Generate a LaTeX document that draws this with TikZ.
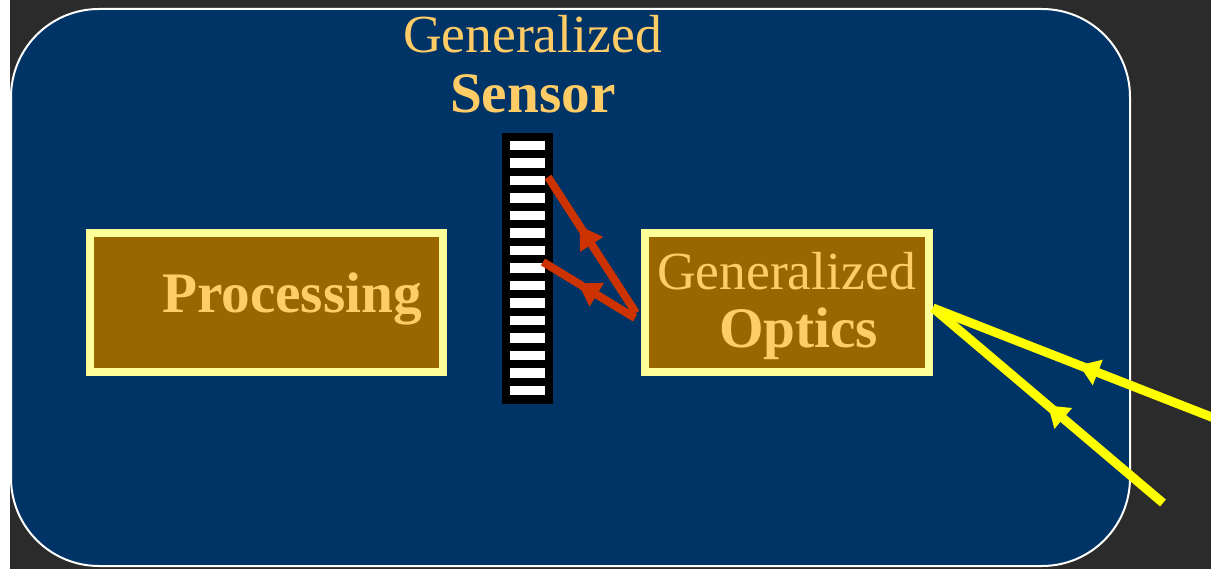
\documentclass[tikz,border=0pt]{standalone}
\usepackage{fontspec}
\setmainfont{Liberation Serif}
\usetikzlibrary{arrows.meta,decorations.markings}
\definecolor{bgdark}{HTML}{2B2B2B}
\definecolor{panel}{HTML}{003366}
\definecolor{boxfill}{HTML}{996600}
\definecolor{boxline}{HTML}{FFFF99}
\definecolor{txt}{HTML}{FFCC66}
\definecolor{ray}{HTML}{CC3300}
\definecolor{lightray}{HTML}{FFFF00}
\begin{document}
\begin{tikzpicture}[x=1pt,y=-1pt,
  blockbox/.style={draw=boxline,line width=8pt,fill=boxfill,minimum width=353pt,minimum height=139pt,inner sep=0pt,outer sep=0pt,anchor=north west},
  lbl/.style={text=txt,inner sep=0pt,outer sep=0pt,anchor=base west,font=\fontsize{53.6}{60}\selectfont},
  blbl/.style={text=txt,inner sep=0pt,outer sep=0pt,anchor=base west,font=\fontsize{57.3}{64}\selectfont\bfseries},
  redray/.style={draw=ray,line width=8pt,postaction={decorate},
    decoration={markings,mark=at position #1 with {\arrow[ray]{Triangle[length=22pt,width=26pt]}}}},
  yelray/.style={draw=lightray,line width=9pt,postaction={decorate},
    decoration={markings,mark=at position #1 with {\arrow[lightray]{Triangle[length=20pt,width=26pt]}}}}
]
\useasboundingbox (0,0) rectangle (1211,569);
\fill[white] (0,0) rectangle (1211,569);
\fill[bgdark] (10,0) rectangle (1211,569);
\draw[white,line width=2pt,fill=panel,rounded corners=88pt] (11,9) rectangle (1130,566);

% boxes
\node[blockbox] (proc) at (90,233) {};
\node[blockbox,minimum width=284pt] (opt) at (645,233) {};

% sensor
\node[fill=black,draw=none,minimum width=51pt,minimum height=271pt,inner sep=0pt,outer sep=0pt,anchor=north west] (sensor) at (502,133) {};
\foreach \i in {0,...,14}{
  \fill[white] (510,141+\i*17.5) rectangle (545,150.5+\i*17.5);
}

% texts
\node[lbl] (gentop) at (403,53) {Generalized};
\node[blbl] (senslbl) at (450,113) {Sensor};
\node[blbl] (proclbl) at (162,313) {Processing};
\node[lbl] (genopt) at (657,290) {Generalized};
\node[blbl] (optlbl) at (719,348) {Optics};

% rays
\coordinate (s1) at (548,177);
\coordinate (s2) at (543,262);
\coordinate (o1) at (636,313);
\coordinate (o2) at (635,318);
\draw[redray=0.64] (o1) -- (s1);
\draw[redray=0.62] (o2) -- (s2);

\coordinate (oin) at (933,308);
\coordinate (y1) at (1214,418);
\coordinate (y2) at (1163,503);
\draw[yelray=0.48] (y1) -- (oin);
\draw[yelray=0.50] (y2) -- (oin);
\end{tikzpicture}
\end{document}
